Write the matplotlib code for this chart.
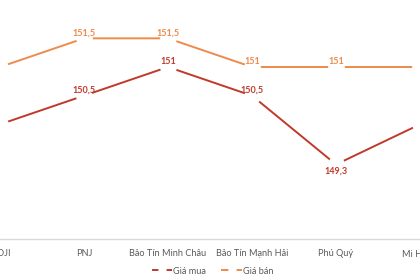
import matplotlib
matplotlib.use("Agg")
import matplotlib.pyplot as plt
from matplotlib.lines import Line2D

categories = ["DOJI", "PNJ", "Bảo Tín Minh Châu", "Bảo Tín Mạnh Hải", "Phú Quý", "Mi Hồng"]
gia_mua = [150.0, 150.5, 151.0, 150.5, 149.3, 150.0]
gia_ban = [151.0, 151.5, 151.5, 151.0, 151.0, 151.0]

def fmt(v):
    s = f"{v:.1f}"
    if s.endswith(".0"):
        s = s[:-2]
    return s.replace(".", ",")

plt.rcParams['font.family'] = ['Lato', 'DejaVu Sans']

c_mua = "#C0392B"
c_ban = "#EE8A4B"

fig = plt.figure(figsize=(4.2, 2.8), dpi=100)
ax = fig.add_axes([0, 1 - 239 / 280, 1, 239 / 280])
x = list(range(len(categories)))
xlim = ((0 - 83) / 88 + 1, (420 - 83) / 88 + 1)

ax.plot(x, gia_ban, color=c_ban, lw=1.4, zorder=2)
ax.plot(x, gia_mua, color=c_mua, lw=1.4, zorder=2)
ax.plot(x, gia_ban, ls='none', marker='o', ms=11, mfc='white', mec='white', zorder=3)
ax.plot(x, gia_mua, ls='none', marker='o', ms=11, mfc='white', mec='white', zorder=3)

for xi, v in zip(x, gia_ban):
    if not (xlim[0] < xi < xlim[1]):
        continue
    ax.annotate(fmt(v), (xi, v), xytext=(0, 4), textcoords='offset points',
                ha='center', va='center', fontsize=6.5, fontweight='bold',
                color=c_ban, zorder=4)
for xi, v in zip(x, gia_mua):
    if not (xlim[0] < xi < xlim[1]):
        continue
    dy = -4.5 if v < 150 else 4
    ax.annotate(fmt(v), (xi, v), xytext=(0, dy), textcoords='offset points',
                ha='center', va='center', fontsize=6.5, fontweight='bold',
                color=c_mua, zorder=4)

ax.set_xlim(*xlim)
ax.set_ylim(148, 151 + 67 / 57.33)
ax.set_xticks(x)
ax.set_xticklabels(categories, fontsize=6.6, color="#595959")
ax.tick_params(axis='x', length=0, pad=7)
ax.set_yticks([])
for s in ['top', 'right', 'left']:
    ax.spines[s].set_visible(False)
ax.spines['bottom'].set_color('#D9D9D9')
ax.spines['bottom'].set_linewidth(1.0)

handles = [
    Line2D([], [], color=c_mua, lw=1.4, marker='o', ms=5, mfc='white', mec='white'),
    Line2D([], [], color=c_ban, lw=1.4, marker='o', ms=5, mfc='white', mec='white'),
]
fig.legend(handles, ["Giá mua", "Giá bán"], loc='center', bbox_to_anchor=(213 / 420, 1 - 271 / 280),
           ncol=2, frameon=False, fontsize=6.6, labelcolor="#595959",
           handlelength=2.0, handletextpad=0.2, columnspacing=1.8)

fig.savefig("out.png", dpi=100)
